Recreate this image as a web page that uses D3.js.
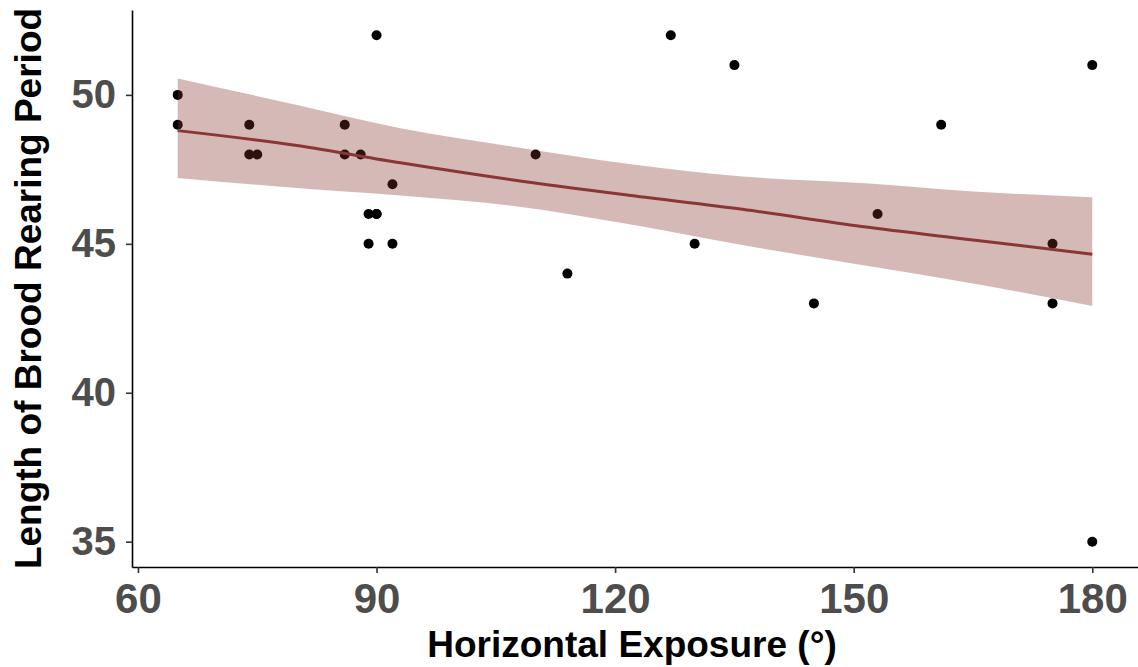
<!DOCTYPE html>
<html>
  <head>
    <meta charset="utf-8">
    <title>brood rearing vs exposure</title>
    <style>
      body { margin: 0; background: #fff; }
      text { font-family: "Liberation Sans", Arial, sans-serif; font-weight: bold; }
    </style>
  </head>
  <body>
    <div class="one-graph"></div>
    <script src="https://d3js.org/d3.v7.min.js"></script>
    <script>
        var w = 1138, h = 667;

        // observations
        var exposure = [65, 65, 74, 74, 75, 86, 86, 88, 89, 89, 90, 90, 90, 92, 92,
                        110, 114, 127, 130, 135, 145, 153, 161, 175, 175, 180, 180];
        var brood    = [50, 49, 49, 48, 48, 49, 48, 48, 46, 45, 52, 46, 46, 47, 45,
                        48, 44, 52, 45, 51, 43, 46, 49, 45, 43, 51, 35];

        // smooth fit
        var fitX     = [65, 80, 93, 107, 122, 136, 151, 165, 180];
        var fitY     = [48.80, 48.30, 47.72, 47.15, 46.62, 46.16, 45.58, 45.13, 44.65];
        var fitUpper = [50.55, 49.66, 48.88, 48.27, 47.67, 47.26, 47.04, 46.76, 46.56];
        var fitLower = [47.21, 46.87, 46.62, 46.28, 45.65, 44.96, 44.29, 43.67, 42.91];

        var xTicks = [60, 90, 120, 150, 180];
        var yTicks = [35, 40, 45, 50];

        var padL = 132, padR = 1138, padT = 10, padB = 567;

        var x = d3.scaleLinear().domain([59.25, 185.75]).range([padL, padR]);
        var y = d3.scaleLinear().domain([34.15, 52.85]).range([padB, padT]);

        var svg = d3.select(".one-graph")
        	.append("svg")
        	.attr("width", w)
        	.attr("height", h);

        var fit = fitX.map(function(d, i) {
        	return {x: d, y: fitY[i], lo: fitLower[i], hi: fitUpper[i]};
        });

        // points (the band is laid over them)
        svg.selectAll(".dot")
        	.data(exposure)
        	.enter()
        	.append("circle")
        	.attr("class", "dot")
        	.attr("cx", function(d) { return x(d); })
        	.attr("cy", function(d, i) { return y(brood[i]); })
        	.attr("r", 5)
        	.style("fill", "#000");

        var band = d3.area()
        	.curve(d3.curveMonotoneX)
        	.x(function(d) { return x(d.x); })
        	.y0(function(d) { return y(d.lo); })
        	.y1(function(d) { return y(d.hi); });

        svg.append("path")
        	.datum(fit)
        	.attr("d", band)
        	.style("fill", "rgb(130,50,40)")
        	.style("fill-opacity", 0.34);

        var line = d3.line()
        	.curve(d3.curveMonotoneX)
        	.x(function(d) { return x(d.x); })
        	.y(function(d) { return y(d.y); });

        svg.append("path")
        	.datum(fit)
        	.attr("d", line)
        	.style("fill", "none")
        	.style("stroke", "#8b3535")
        	.style("stroke-width", 3);

        // axes
        var xAxis = svg.append("g")
        	.attr("transform", "translate(0," + padB + ")")
        	.call(d3.axisBottom(x).tickValues(xTicks).tickSize(6).tickPadding(10).tickSizeOuter(0));

        var yAxis = svg.append("g")
        	.attr("transform", "translate(" + padL + ",0)")
        	.call(d3.axisLeft(y).tickValues(yTicks).tickSize(6).tickPadding(10).tickSizeOuter(0));

        svg.selectAll(".domain").style("stroke", "#000").style("stroke-width", 1.6);
        svg.selectAll(".tick line").style("stroke", "#333").style("stroke-width", 1.6);

        xAxis.selectAll("text")
        	.style("font-size", "42px")
        	.style("fill", "#4d4d4d");
        yAxis.selectAll("text")
        	.style("font-size", "40px")
        	.style("fill", "#4d4d4d");

        // axis titles
        svg.append("text")
        	.attr("x", 632)
        	.attr("y", 657)
        	.style("text-anchor", "middle")
        	.style("font-size", "37px")
        	.style("fill", "#000")
        	.text("Horizontal Exposure (°)");

        svg.append("text")
        	.attr("transform", "translate(41," + ((padT + padB) / 2) + ") rotate(-90)")
        	.style("text-anchor", "middle")
        	.style("font-size", "37px")
        	.style("fill", "#000")
        	.text("Length of Brood Rearing Period");
    </script>
  </body>
</html>
